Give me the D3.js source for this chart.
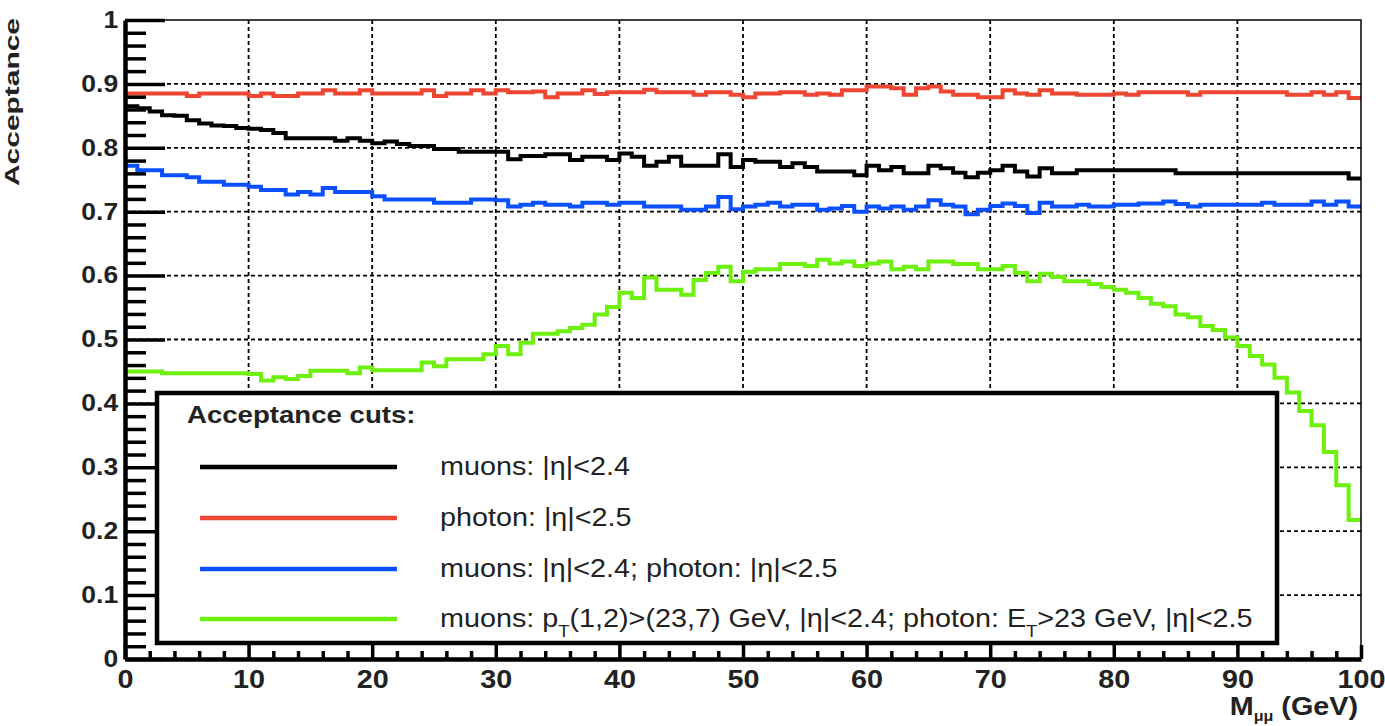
<!doctype html>
<html lang="en">
<head>
<meta charset="utf-8">
<title>Acceptance vs M_mumu</title>
<script src="https://d3js.org/d3.v7.min.js"></script>
<style>
  body { margin: 0; background: #fff; }
  svg { display: block; font-family: "Liberation Sans", Arial, sans-serif; }
</style>
</head>
<body>
<svg id="chart" width="1385" height="726"></svg>
<script>
// bins: 100 bins of 1 GeV from 0 to 100
var binLow = d3.range(0, 100, 1);

var xTickLabels = ["0", "10", "20", "30", "40", "50", "60", "70", "80", "90", "100"];
var yTickLabels = ["0", "0.1", "0.2", "0.3", "0.4", "0.5", "0.6", "0.7", "0.8", "0.9", "1"];

var muonsEta = [
0.865,0.862,0.857,0.851,0.850,0.843,0.838,0.835,0.834,0.831,
0.830,0.828,0.823,0.815,0.815,0.815,0.815,0.811,0.815,0.811,
0.807,0.810,0.806,0.803,0.803,0.798,0.798,0.794,0.794,0.794,
0.794,0.782,0.787,0.787,0.790,0.790,0.781,0.786,0.786,0.781,
0.791,0.786,0.772,0.778,0.786,0.772,0.772,0.772,0.790,0.770,
0.781,0.778,0.778,0.770,0.776,0.770,0.763,0.763,0.763,0.757,
0.772,0.765,0.770,0.760,0.760,0.772,0.768,0.761,0.754,0.761,
0.765,0.772,0.763,0.755,0.768,0.760,0.760,0.765,0.765,0.765,
0.765,0.765,0.765,0.765,0.765,0.760,0.760,0.760,0.760,0.760,
0.760,0.760,0.760,0.760,0.760,0.760,0.760,0.760,0.760,0.752];

var photonEta = [
0.885,0.885,0.885,0.885,0.885,0.881,0.885,0.885,0.885,0.885,
0.881,0.885,0.881,0.881,0.885,0.885,0.890,0.885,0.885,0.890,
0.885,0.885,0.885,0.885,0.890,0.881,0.885,0.885,0.890,0.885,
0.890,0.887,0.887,0.888,0.879,0.885,0.885,0.890,0.884,0.887,
0.887,0.887,0.891,0.887,0.887,0.887,0.883,0.887,0.887,0.883,
0.879,0.885,0.885,0.887,0.887,0.883,0.885,0.883,0.890,0.890,
0.896,0.896,0.893,0.883,0.893,0.896,0.888,0.883,0.883,0.879,
0.879,0.890,0.885,0.883,0.890,0.885,0.885,0.883,0.883,0.883,
0.885,0.883,0.887,0.887,0.887,0.887,0.883,0.887,0.887,0.887,
0.887,0.887,0.887,0.887,0.883,0.883,0.887,0.883,0.887,0.878];

var bothEta = [
0.772,0.765,0.765,0.757,0.757,0.754,0.747,0.747,0.742,0.742,
0.739,0.734,0.734,0.727,0.731,0.727,0.737,0.731,0.731,0.731,
0.724,0.719,0.719,0.719,0.719,0.714,0.714,0.714,0.719,0.719,
0.718,0.708,0.711,0.714,0.711,0.711,0.708,0.714,0.714,0.711,
0.714,0.714,0.708,0.708,0.708,0.703,0.703,0.708,0.723,0.704,
0.708,0.711,0.714,0.708,0.711,0.711,0.703,0.705,0.709,0.700,
0.708,0.705,0.708,0.703,0.708,0.718,0.711,0.708,0.696,0.703,
0.709,0.713,0.709,0.698,0.714,0.708,0.708,0.711,0.708,0.708,
0.711,0.711,0.713,0.713,0.716,0.712,0.708,0.711,0.711,0.711,
0.711,0.711,0.714,0.711,0.711,0.711,0.716,0.711,0.716,0.708];

var allCuts = [
0.450,0.450,0.450,0.447,0.447,0.447,0.447,0.447,0.447,0.447,
0.446,0.436,0.441,0.438,0.443,0.451,0.451,0.451,0.447,0.456,
0.452,0.452,0.452,0.452,0.464,0.458,0.469,0.469,0.469,0.477,
0.490,0.477,0.495,0.509,0.509,0.513,0.518,0.523,0.539,0.551,
0.573,0.565,0.597,0.578,0.578,0.570,0.593,0.604,0.614,0.591,
0.606,0.610,0.610,0.618,0.618,0.615,0.625,0.619,0.622,0.615,
0.619,0.622,0.610,0.614,0.610,0.622,0.622,0.618,0.618,0.610,
0.610,0.615,0.604,0.591,0.603,0.598,0.591,0.591,0.587,0.582,
0.578,0.573,0.565,0.556,0.552,0.539,0.535,0.521,0.515,0.503,
0.490,0.474,0.461,0.440,0.417,0.388,0.366,0.324,0.272,0.2175];

var series = [
  { values: muonsEta,  color: "#000000", label: "muons" },
  { values: photonEta, color: "#ee4632", label: "photon" },
  { values: bothEta,   color: "#0a50ff", label: "both" },
  { values: allCuts,   color: "#6cf00c", label: "all" }
];

var SX = 1.15; // glyphs in the picture are a bit wide

var svg = d3.select("#chart");
svg.append("rect").attr("width", 1385).attr("height", 726).attr("fill", "#fff");

var x = d3.scaleLinear().domain([0, 100]).range([125, 1361]);
var y = d3.scaleLinear().domain([0, 1]).range([659, 20]);

var majorX = xTickLabels.map(Number);
var majorY = yTickLabels.map(Number);
var minorX = d3.range(0, 101, 2).filter(function(d) { return d % 10 !== 0; });
var minorY = d3.range(0, 51, 1).map(function(d) { return d / 50; }).filter(function(d, i) { return i % 5 !== 0; });

// grid
var grid = svg.append("g").attr("stroke", "#000").attr("stroke-width", 1.8).attr("stroke-dasharray", "4,3");
grid.selectAll(".gx").data(majorX.slice(1, -1)).enter().append("line")
  .attr("x1", function(d) { return x(d); }).attr("x2", function(d) { return x(d); })
  .attr("y1", y(1)).attr("y2", y(0));
grid.selectAll(".gy").data(majorY.slice(1, -1)).enter().append("line")
  .attr("x1", x(0)).attr("x2", x(100))
  .attr("y1", function(d) { return y(d); }).attr("y2", function(d) { return y(d); });

// histograms
var line = d3.line()
  .x(function(d) { return x(d[0]); })
  .y(function(d) { return y(d[1]); })
  .curve(d3.curveStepAfter);

series.forEach(function(s) {
  var pts = binLow.map(function(b, i) { return [b, s.values[i]]; });
  pts.push([100, s.values[s.values.length - 1]]);
  svg.append("path").datum(pts)
    .attr("fill", "none")
    .attr("stroke", s.color)
    .attr("stroke-width", 4)
    .attr("d", line);
});

// frame top/right
svg.append("path")
  .attr("d", "M" + x(0) + "," + y(1) + "H" + x(100) + "V" + y(0))
  .attr("fill", "none").attr("stroke", "#000").attr("stroke-width", 1.5);

// y axis
svg.append("g").attr("transform", "translate(" + x(0) + ",0)")
  .call(d3.axisLeft(y).tickValues(minorY).tickSizeInner(-21).tickSizeOuter(0).tickFormat(""))
  .call(function(g) { g.select(".domain").remove(); g.selectAll("line").attr("stroke-width", 3.5); });

var yAxis = svg.append("g").attr("transform", "translate(" + x(0) + ",0)")
  .call(d3.axisLeft(y).tickValues(majorY).tickSizeInner(-40).tickSizeOuter(0).tickPadding(6)
    .tickFormat(function(d, i) { return yTickLabels[i]; }));
yAxis.select(".domain").attr("stroke-width", 4.5);
yAxis.selectAll("line").attr("stroke-width", 3.5);
yAxis.selectAll("text")
  .attr("font-size", 23).attr("font-weight", "bold").attr("fill", "#222")
  .attr("transform", "scale(" + SX + ",1)");

// x axis
svg.append("g").attr("transform", "translate(0," + y(0) + ")")
  .call(d3.axisBottom(x).tickValues(minorX).tickSizeInner(-8).tickSizeOuter(0).tickFormat(""))
  .call(function(g) { g.select(".domain").remove(); g.selectAll("line").attr("stroke-width", 3.5); });

var xAxis = svg.append("g").attr("transform", "translate(0," + y(0) + ")")
  .call(d3.axisBottom(x).tickValues(majorX).tickSizeInner(-14).tickSizeOuter(0).tickPadding(11)
    .tickFormat(function(d, i) { return xTickLabels[i]; }));
xAxis.select(".domain").attr("stroke-width", 4.5);
xAxis.selectAll("line").attr("stroke-width", 3.5);
xAxis.selectAll("text")
  .attr("font-size", 25).attr("font-weight", "bold").attr("fill", "#222")
  .attr("transform", "scale(" + SX + ",1)");

// axis titles
var xt = svg.append("text")
  .attr("transform", "translate(1358,715) scale(" + SX + ",1)")
  .attr("text-anchor", "end").attr("font-size", 25).attr("font-weight", "bold").attr("fill", "#222");
xt.append("tspan").text("M");
xt.append("tspan").attr("font-size", 14).attr("dy", 6).text("μμ");
xt.append("tspan").attr("dy", -6).text(" (GeV)");

svg.append("text")
  .attr("transform", "translate(19,18) rotate(-90)")
  .attr("text-anchor", "end").attr("font-size", 21).attr("font-weight", "bold").attr("fill", "#222")
  .attr("textLength", 168).attr("lengthAdjust", "spacingAndGlyphs")
  .text("Acceptance");

// legend
var legend = svg.append("g");
legend.append("rect")
  .attr("x", 157).attr("y", 393).attr("width", 1120).attr("height", 250)
  .attr("fill", "#fff").attr("stroke", "#000").attr("stroke-width", 4.5);

legend.append("text")
  .attr("transform", "translate(187,423) scale(" + SX + ",1)")
  .attr("font-size", 24).attr("font-weight", "bold").attr("fill", "#222")
  .text("Acceptance cuts:");

var rowY = [467, 518, 569, 619];
var labelParts = [
  [["muons: |η|<2.4", 0, null]],
  [["photon: |η|<2.5", 0, null]],
  [["muons: |η|<2.4; photon: |η|<2.5", 0, null]],
  [["muons: p", 0, null], ["T", 10, 16], ["(1,2)>(23,7) GeV, |η|<2.4; photon: E", -10, null],
   ["T", 10, 16], [">23 GeV, |η|<2.5", -10, null]]
];

series.forEach(function(s, i) {
  legend.append("line")
    .attr("x1", 200).attr("x2", 397).attr("y1", rowY[i]).attr("y2", rowY[i])
    .attr("stroke", s.color).attr("stroke-width", 4.5);
  var t = legend.append("text")
    .attr("transform", "translate(440," + (rowY[i] + 8) + ") scale(" + SX + ",1)")
    .attr("font-size", 25).attr("fill", "#222");
  labelParts[i].forEach(function(p) {
    var ts = t.append("tspan").attr("dy", p[1]).text(p[0]);
    if (p[2]) ts.attr("font-size", p[2]);
  });
});
</script>
</body>
</html>
